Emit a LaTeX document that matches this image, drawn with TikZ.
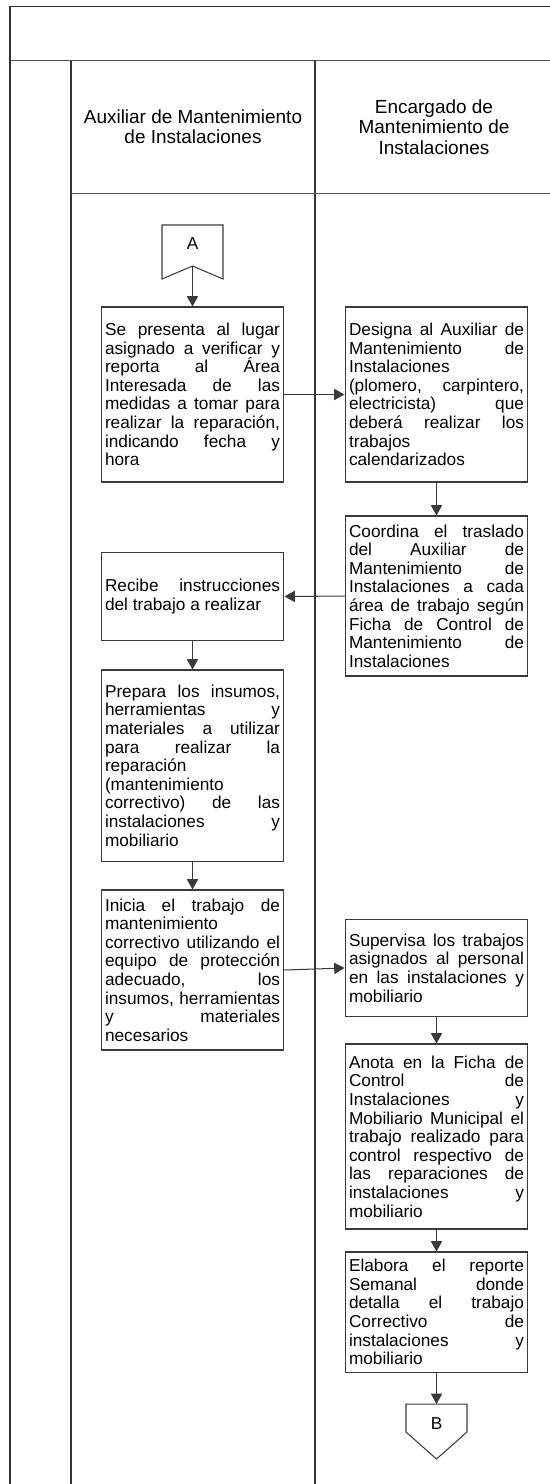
\documentclass[tikz,border=0pt]{standalone}
\usepackage{fontspec}
\setmainfont{Liberation Sans}
\usetikzlibrary{arrows.meta}
\definecolor{framecol}{HTML}{333333}
\definecolor{linecol}{HTML}{3A3A3A}
\tolerance=10000
\hyphenpenalty=10000
\hbadness=10000

\begin{document}
\begin{tikzpicture}[
    x=0.58pt, y=-0.58pt,
    lane/.style={draw=framecol, line width=1.2pt},
    sepline/.style={draw=framecol!85, line width=1pt},
    lanehead/.style={align=center, font=\fontsize{11}{11.8}\selectfont},
    act/.style={draw=linecol, line width=0.6pt, text width=101.5pt,
                inner xsep=2.3pt, inner ysep=0pt, align=justify,
                font=\fontsize{10}{10.8}\selectfont},
    offpage/.style={draw=linecol, line width=0.6pt},
    conlabel/.style={font=\fontsize{10}{12}\selectfont},
    flow/.style={-{Triangle[length=6pt, width=6.5pt]}, draw=linecol, line width=0.6pt}
  ]
  \useasboundingbox (0,0) rectangle (550,1484);

  % ---- Frame and lanes ----
  \draw[framecol, line width=0.7pt] (9.7,6.3) -- (550,6.3);
  \draw[sepline] (9.7,60.5) -- (550,60.5);
  \draw[lane] (9.7,6.3) -- (9.7,1484);
  \draw[lane] (70.7,60.5) -- (70.7,1484);
  \draw[lane] (315,60.5) -- (315,1484);
  \draw[sepline, line width=0.8pt] (70.7,193.3) -- (550,193.3);

  % ---- Lane headers ----
  \node[lanehead] (head-aux) at (193,127)
    {Auxiliar de Mantenimiento\\de Instalaciones};
  \node[lanehead] (head-enc) at (434,127)
    {Encargado de\\Mantenimiento de\\Instalaciones};

  % ---- Connector A ----
  \draw[offpage] (162,225) -- (223,225) -- (223,279)
    -- (192.5,266) coordinate (A-notch) -- (162,279) -- cycle;
  \node[conlabel] (con-A) at (192.5,244) {A};

  % ---- Auxiliar lane ----
  \node[act, minimum height=101.5pt] (aux-1) at (192.5,394.5)
    {Se presenta al lugar\linebreak asignado a verificar y\linebreak
     reporta al Área\linebreak Interesada de las\linebreak
     medidas a tomar para\linebreak realizar la reparación,\linebreak
     indicando fecha y\linebreak hora};
  \node[act, minimum height=50.5pt] (aux-2) at (192.5,596.5)
    {Recibe instrucciones\linebreak del trabajo a realizar};
  \node[act, minimum height=110.8pt] (aux-3) at (192.5,765.5)
    {Prepara los insumos,\linebreak herramientas y\linebreak
     materiales a utilizar\linebreak para realizar la\linebreak
     reparación\linebreak (mantenimiento\linebreak
     correctivo) de las\linebreak instalaciones y\linebreak mobiliario};
  \node[act, minimum height=92.8pt] (aux-4) at (192.5,970)
    {Inicia el trabajo de\linebreak mantenimiento\linebreak
     correctivo utilizando el\linebreak equipo de protección\linebreak
     adecuado, los\linebreak insumos, herramientas\linebreak
     y materiales\linebreak necesarios};

  % ---- Encargado lane ----
  \node[act, minimum height=101.5pt] (enc-1) at (436.5,394.5)
    {Designa al Auxiliar de\linebreak Mantenimiento de\linebreak
     Instalaciones\linebreak (plomero, carpintero,\linebreak
     electricista) que\linebreak deberá realizar los\linebreak
     trabajos\linebreak calendarizados};
  \node[act, minimum height=92.8pt] (enc-2) at (436.5,596)
    {Coordina el traslado\linebreak del Auxiliar de\linebreak
     Mantenimiento de\linebreak Instalaciones a cada\linebreak
     área de trabajo según\linebreak Ficha de Control de\linebreak
     Mantenimiento de\linebreak Instalaciones};
  \node[act, minimum height=56.8pt] (enc-3) at (436.5,968)
    {Supervisa los trabajos\linebreak asignados al personal\linebreak
     en las instalaciones y\linebreak mobiliario};
  \node[act, minimum height=107.3pt] (enc-4) at (436.5,1136.5)
    {Anota en la Ficha de\linebreak Control de\linebreak
     Instalaciones y\linebreak Mobiliario Municipal el\linebreak
     trabajo realizado para\linebreak control respectivo de\linebreak
     las reparaciones de\linebreak instalaciones y\linebreak mobiliario};
  \node[act, minimum height=69.6pt] (enc-5) at (436.5,1312)
    {Elabora el reporte\linebreak Semanal donde\linebreak
     detalla el trabajo\linebreak Correctivo de\linebreak
     instalaciones y\linebreak mobiliario};

  % ---- Connector B ----
  \draw[offpage] (406,1404) -- (467,1404) -- (467,1432)
    -- (436.5,1459) -- (406,1432) -- cycle;
  \coordinate (B-top) at (436.5,1404);
  \node[conlabel] (con-B) at (436.5,1424) {B};

  % ---- Flow ----
  \draw[flow] (A-notch) -- (aux-1.north);
  \draw[flow] (aux-1.east) -- (enc-1.west);
  \draw[flow] (enc-1.south) -- (enc-2.north);
  \draw[flow] (enc-2.west) -- (aux-2.east);
  \draw[flow] (aux-2.south) -- (aux-3.north);
  \draw[flow] (aux-3.south) -- (aux-4.north);
  \draw[flow] (aux-4.east) -- (enc-3.west);
  \draw[flow] (enc-3.south) -- (enc-4.north);
  \draw[flow] (enc-4.south) -- (enc-5.north);
  \draw[flow] (enc-5.south) -- (B-top);

\end{tikzpicture}
\end{document}
